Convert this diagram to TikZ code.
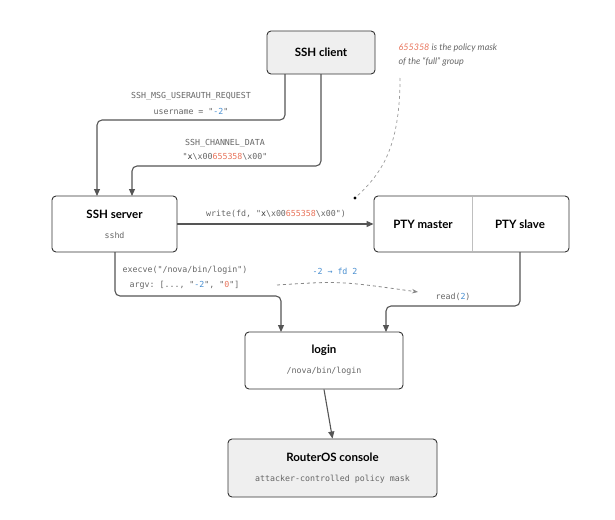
\documentclass[tikz,border=0pt]{standalone}
\usepackage{fontspec}
\setmainfont{Lato}
\setmonofont{DejaVu Sans Mono}
\usetikzlibrary{arrows.meta}
\definecolor{edge}{HTML}{555555}
\definecolor{lab}{HTML}{666666}
\definecolor{org}{HTML}{E8735A}
\definecolor{blu}{HTML}{4A8FD0}
\definecolor{fillg}{HTML}{EFEFEF}
\newcommand{\org}[1]{\textcolor{org}{#1}}
\newcommand{\blu}[1]{\textcolor{blu}{#1}}
\begin{document}
\begin{tikzpicture}[x=1pt,y=-1pt,
  box/.style={draw=black!80,line width=0.9pt,rounded corners=4pt,fill=white},
  gbox/.style={box,fill=fillg},
  conn/.style={draw=edge,line width=1.1pt,rounded corners=5pt,-{Triangle[length=7pt,width=6pt]}},
  lbl/.style={font=\ttfamily\fontsize{8.3}{10}\selectfont,text=lab,align=center},
  ttl/.style={font=\bfseries\fontsize{11.5}{13}\selectfont},
  sub/.style={font=\ttfamily\fontsize{8.3}{10}\selectfont,text=lab}]
\useasboundingbox (0,0) rectangle (615,519);
\node[gbox,minimum width=108pt,minimum height=43pt] (client) at (321,52.5) {};
\node[ttl] at (client) {SSH client};
\node[box,minimum width=125pt,minimum height=56pt] (server) at (114.5,224) {};
\node[ttl] at (114.5,214) {SSH server};
\node[sub] at (114.5,235) {sshd};
\node[box,minimum width=195pt,minimum height=56pt] (pty) at (471.5,224) {};
\draw[black!25] (472,197) -- (472,251);
\node[ttl] at (423,224) {PTY master};
\node[ttl] at (520,224) {PTY slave};
\node[box,minimum width=158pt,minimum height=57pt] (login) at (324,360.5) {};
\node[ttl] at (324,350) {login};
\node[sub] at (324,371) {/nova/bin/login};
\node[gbox,minimum width=209pt,minimum height=58pt] (ros) at (332.5,468) {};
\node[ttl] at (332.5,457) {RouterOS console};
\node[sub] at (332.5,479) {attacker-controlled policy mask};
\coordinate (c1) at (285,74);
\coordinate (c2) at (321,74);
\draw[conn] (c1) -- (285,120) -- (97,120) -- (97,196);
\draw[conn] (c2) -- (321,166) -- (132,166) -- (132,196);
\draw[conn] (server.east) -- (pty.west);
\draw[conn] (115,252) -- (115,296) -- (281,296) -- (281,332);
\draw[conn] (520,252) -- (520,306) -- (386,306) -- (386,332);
\draw[conn] (login.south) -- (ros.north);
\node[lbl] at (191,96) {SSH\_MSG\_USERAUTH\_REQUEST};
\node[lbl] at (191,111) {username = "\blu{-2}"};
\node[lbl] at (225,143) {SSH\_CHANNEL\_DATA};
\node[lbl] at (225,157) {"\textcolor{black!80}{x}\textbackslash x00\org{655358}\textbackslash x00"};
\node[lbl] at (276,214) {write(fd, "\textcolor{black!80}{x}\textbackslash x00\org{655358}\textbackslash x00")};
\node[lbl,anchor=west] at (119,270) {execve("/nova/bin/login")};
\node[lbl,anchor=west] (argv) at (126,285) {argv: [..., "\blu{-2}", "\org{0}"]};
\node[lbl] at (335,271) {\blu{-2 → fd 2}};
\node[lbl] (rd) at (453,297) {read(\blu{2})};
\coordinate (da) at (277,285);
\coordinate (db) at (418,292);
\draw[edge!70,dashed,line width=0.8pt,-{Stealth[length=6pt]}] (da) .. controls (340,281) .. (db);
\node[anchor=north west,align=left,text=lab,font=\itshape\fontsize{9}{14}\selectfont] at (395,40) {\org{655358} is the policy mask\\of the “full” group};
\coordinate (ns) at (400,78);
\coordinate (nd) at (355,198);
\draw[black!40,dashed,line width=0.7pt] (ns) .. controls (400,150) and (380,175) .. (nd);
\fill (nd) circle (1.6pt);
\end{tikzpicture}
\end{document}
